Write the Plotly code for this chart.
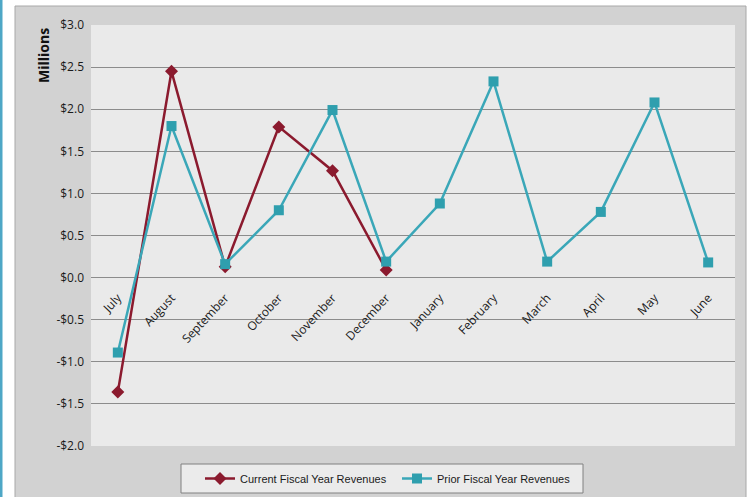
import plotly.graph_objects as go

# Monthly revenues in millions of dollars, fiscal year July-June
months = ["July", "August", "September", "October", "November", "December",
          "January", "February", "March", "April", "May", "June"]
current_fy = [-1.36, 2.45, 0.13, 1.79, 1.27, 0.09]
prior_fy = [-0.89, 1.80, 0.16, 0.80, 1.99, 0.19, 0.88, 2.33, 0.19, 0.78, 2.08, 0.18]

y_ticks = [3.0, 2.5, 2.0, 1.5, 1.0, 0.5, 0.0, -0.5, -1.0, -1.5, -2.0]
y_tick_text = ["$3.0", "$2.5", "$2.0", "$1.5", "$1.0", "$0.5", "$0.0",
               "-$0.5", "-$1.0", "-$1.5", "-$2.0"]
y_min, y_max = -2.0, 3.0

# Page geometry (pixels); bottom margin is zero so the legend sits inside the paper
W, H = 751, 497
L, R, T, B = 91, 16, 25, 0
pw, ph = W - L - R, H - T - B
plot_bottom_px = 446


def px_x(x):
    return (x - L) / pw


def px_y(y):
    return (H - B - y) / ph


dom_bottom = px_y(plot_bottom_px)
zero_pos = dom_bottom + (0 - y_min) / (y_max - y_min) * (1 - dom_bottom)

TICK_FONT = "Open Sans, sans-serif"

fig = go.Figure()
fig.add_trace(go.Scatter(
    x=months[:len(current_fy)], y=current_fy, name="Current Fiscal Year Revenues",
    mode="lines+markers",
    line=dict(color="#8b1a2e", width=2.5),
    marker=dict(symbol="diamond", size=10, color="#8b1a2e"),
))
fig.add_trace(go.Scatter(
    x=months, y=prior_fy, name="Prior Fiscal Year Revenues",
    mode="lines+markers",
    line=dict(color="#3aa7b8", width=2.5),
    marker=dict(symbol="square", size=10, color="#2f9fae"),
))

shapes = [
    # outer chart panel
    dict(type="rect", xref="paper", yref="paper",
         x0=px_x(15), x1=px_x(746), y0=px_y(505), y1=px_y(6),
         fillcolor="#d2d2d2", line=dict(color="#a8a8a8", width=1), layer="below"),
    # plot area
    dict(type="rect", xref="paper", yref="paper",
         x0=0, x1=1, y0=dom_bottom, y1=1,
         fillcolor="#eaeaea", line=dict(width=0), layer="below"),
    # legend box
    dict(type="rect", xref="paper", yref="paper",
         x0=px_x(181), x1=px_x(583), y0=px_y(493), y1=px_y(464),
         fillcolor="#ebebeb", line=dict(color="#808080", width=1), layer="below"),
    # left accent strip
    dict(type="rect", xref="paper", yref="paper",
         x0=px_x(0), x1=px_x(2.5), y0=px_y(505), y1=px_y(0),
         fillcolor="#4ea7c6", line=dict(width=0), layer="below"),
]

fig.update_layout(
    width=W, height=H,
    margin=dict(l=L, r=R, t=T, b=B, autoexpand=False),
    paper_bgcolor="white",
    plot_bgcolor="rgba(0,0,0,0)",
    font=dict(family=TICK_FONT, color="#1a1a1a", size=12),
    shapes=shapes,
    showlegend=True,
    legend=dict(
        orientation="h", xref="container", yref="container",
        x=200 / W, y=1 - 478.5 / H, xanchor="left", yanchor="middle",
        bgcolor="rgba(0,0,0,0)", borderwidth=0,
        font=dict(family="Liberation Sans, sans-serif", size=11, color="#1a1a1a"),
        entrywidth=152, itemwidth=30,
    ),
    xaxis=dict(
        type="category", categoryorder="array", categoryarray=months,
        range=[-0.5, 11.5], anchor="free", position=zero_pos,
        tickangle=-47, showgrid=False, showline=False, ticks="",
        ticklabelstandoff=10,
        tickfont=dict(family=TICK_FONT, size=12, color="#1a1a1a"),
        zeroline=False, automargin=False,
    ),
    yaxis=dict(
        domain=[dom_bottom, 1],
        range=[y_min, y_max], tickvals=y_ticks, ticktext=y_tick_text,
        showgrid=True, gridcolor="#8c8c8c", gridwidth=1,
        zeroline=True, zerolinecolor="#8c8c8c", zerolinewidth=1,
        showline=False, ticks="", ticklabelstandoff=6, automargin=False,
        tickfont=dict(family=TICK_FONT, size=12, color="#1a1a1a"),
    ),
    annotations=[dict(
        text="<b>Millions</b>", xref="paper", yref="paper",
        x=px_x(43), y=px_y(56), xanchor="center", yanchor="middle",
        textangle=-90, showarrow=False,
        font=dict(family=TICK_FONT, size=14, color="#111111"),
    )],
)

fig.write_html("out.html")
